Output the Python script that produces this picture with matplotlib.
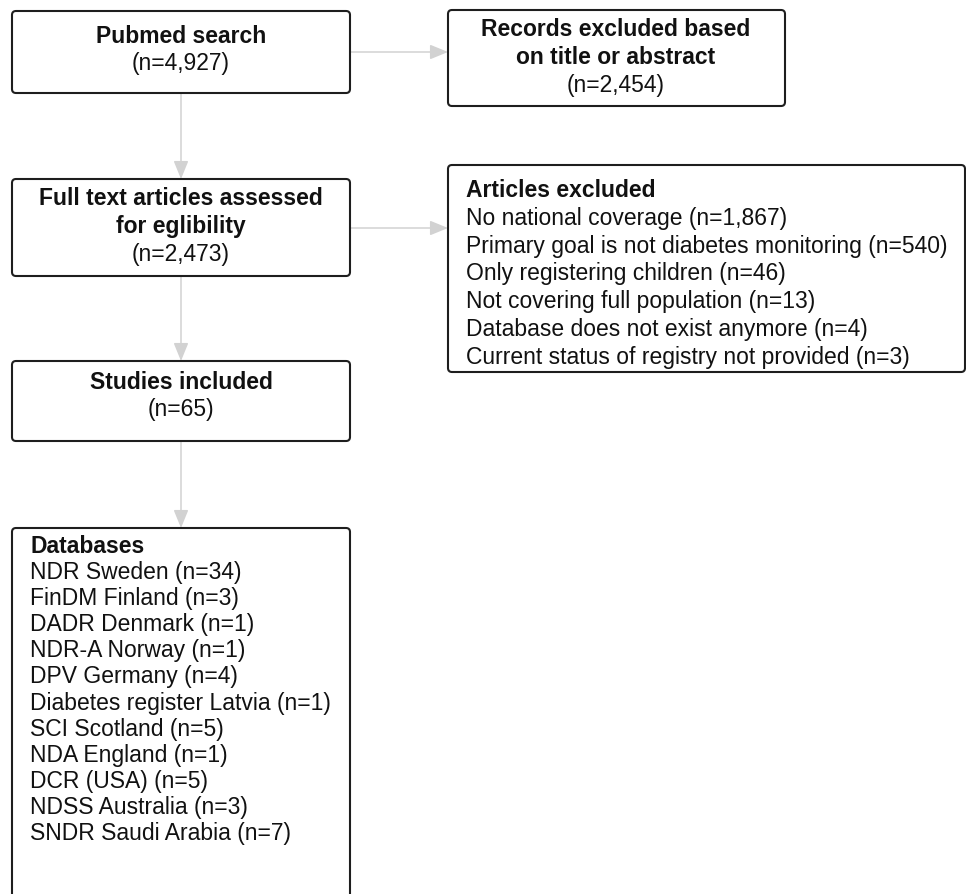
import matplotlib
matplotlib.use("Agg")
import matplotlib.pyplot as plt
from matplotlib.patches import FancyBboxPatch, FancyArrowPatch

plt.rcParams['font.family'] = ['Liberation Sans', 'DejaVu Sans']

# ---- content ----
pubmed_title = ["Pubmed search"]
pubmed_n = "(n=4,927)"
records_title = ["Records excluded based", "on title or abstract"]
records_n = "(n=2,454)"
fulltext_title = ["Full text articles assessed", "for eglibility"]
fulltext_n = "(n=2,473)"
studies_title = ["Studies included"]
studies_n = "(n=65)"
excluded_title = "Articles excluded"
excluded_reasons = ["No national coverage", "Primary goal is not diabetes monitoring",
                    "Only registering children", "Not covering full population",
                    "Database does not exist anymore", "Current status of registry not provided"]
excluded_counts = ["1,867", "540", "46", "13", "4", "3"]
db_title = "Databases"
db_names = ["NDR Sweden", "FinDM Finland", "DADR Denmark", "NDR-A Norway", "DPV Germany",
            "Diabetes register Latvia", "SCI Scotland", "NDA England", "DCR (USA)",
            "NDSS Australia", "SNDR Saudi Arabia"]
db_counts = [34, 3, 1, 1, 4, 1, 5, 1, 5, 3, 7]

W, H = 966, 894
fig = plt.figure(figsize=(W / 100, H / 100), dpi=100)
ax = fig.add_axes([0, 0, 1, 1])
ax.set_xlim(0, W)
ax.set_ylim(H, 0)
ax.axis('off')

FS = 16.5
EDGE = '#1e1e1e'
ARROW = '#d2d2d2'

def box(x0, y0, x1, y1):
    p = FancyBboxPatch((x0, y0), x1 - x0, y1 - y0,
                       boxstyle="round,pad=0,rounding_size=4",
                       facecolor='white', edgecolor=EDGE, linewidth=1.5, zorder=2)
    ax.add_patch(p)

def arrow(x0, y0, x1, y1):
    a = FancyArrowPatch((x0, y0), (x1, y1), arrowstyle='-|>,head_length=11,head_width=4.5',
                        mutation_scale=1, color=ARROW, linewidth=1.1,
                        shrinkA=0, shrinkB=0, zorder=1)
    ax.add_patch(a)

def centered(lines, cx, y_base, step, bold_n):
    for i, s in enumerate(lines):
        ax.text(cx, y_base + i * step, s, ha='center', va='baseline', fontsize=FS,
                fontweight='bold' if i < bold_n else 'normal', color='#111111', zorder=3)

# boxes
box(12, 11, 350, 93)
box(448, 10, 785, 106)
box(12, 179, 350, 276)
box(448, 165, 965, 372)
box(12, 361, 350, 441)
box(12, 528, 350, 920)

# arrows
arrow(181, 93, 181, 179)
arrow(181, 276, 181, 361)
arrow(181, 441, 181, 528)
arrow(350, 52, 448, 52)
arrow(350, 228, 448, 228)

# texts
centered(pubmed_title + [pubmed_n], 181, 43, 27, 1)
centered(records_title + [records_n], 616, 36, 28, 2)
centered(fulltext_title + [fulltext_n], 181, 205, 28, 2)
centered(studies_title + [studies_n], 181, 389, 27, 1)

ax.text(466, 197, excluded_title, ha='left', va='baseline', fontsize=FS,
        fontweight='bold', color='#111111', zorder=3)
for i, (r, c) in enumerate(zip(excluded_reasons, excluded_counts)):
    ax.text(466, 197 + (i + 1) * 27.8, f"{r} (n={c})", ha='left', va='baseline',
            fontsize=FS, color='#111111', zorder=3)

ax.text(30, 553, db_title, ha='left', va='baseline', fontsize=FS,
        fontweight='bold', color='#111111', zorder=3)
for i, (n, c) in enumerate(zip(db_names, db_counts)):
    ax.text(30, 553 + (i + 1) * 26.1, f"{n} (n={c})", ha='left', va='baseline',
            fontsize=FS, color='#111111', zorder=3)

fig.savefig("out.png", dpi=100, facecolor='white')
